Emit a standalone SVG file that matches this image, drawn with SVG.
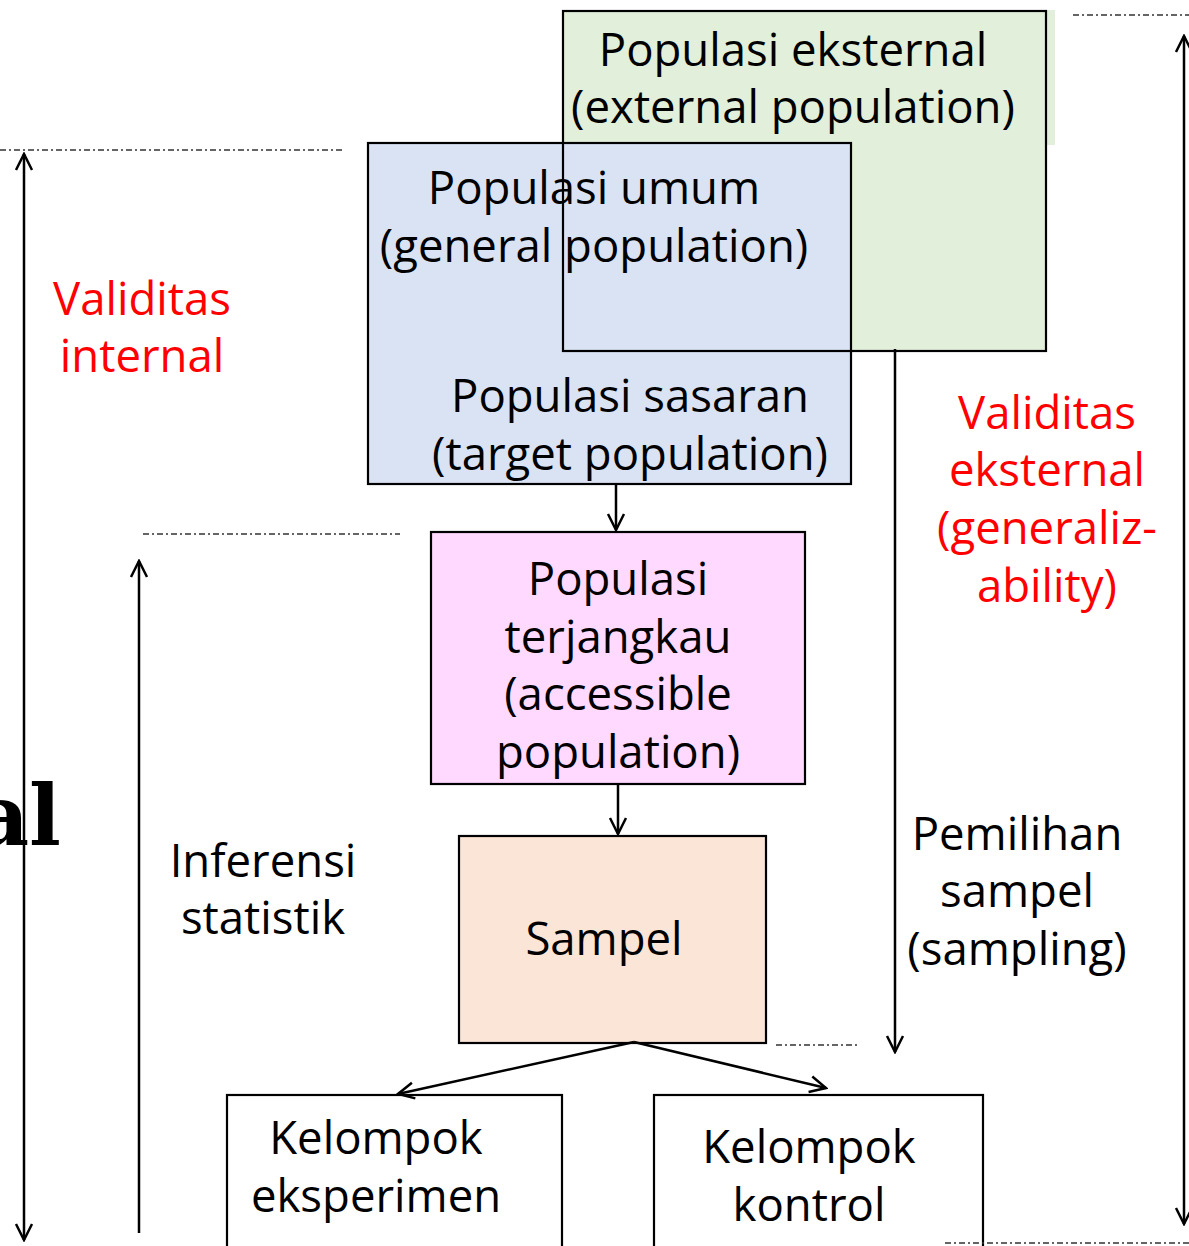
<svg xmlns="http://www.w3.org/2000/svg" width="1189" height="1246" viewBox="0 0 1189 1246">
<style>
.t{font-family:"Open Sans","Noto Sans",sans-serif;font-size:45.5px;fill:#000;text-anchor:middle}
.r{fill:#FF0000}
.box{stroke:#000;stroke-width:2.2}
.ln{stroke:#000;stroke-width:2.5;fill:none}
.dash{stroke:#333;stroke-width:1.3;stroke-dasharray:6 3 2 3;fill:none}
</style>
<defs>
<marker id="ah" viewBox="0 0 20 20" refX="18" refY="10" markerWidth="20" markerHeight="20" markerUnits="userSpaceOnUse" orient="auto-start-reverse">
<polyline points="2,2 18,10 2,18" fill="none" stroke="#000" stroke-width="2.5"/>
</marker>
</defs>
<rect width="1189" height="1246" fill="#fff"/>
<g id="big-text">
<text x="61" y="845" style="font-family:'DejaVu Serif',serif;font-weight:900;font-size:84px" text-anchor="end">nal</text>
</g>
<g id="populasi-eksternal">
<rect x="563" y="10" width="492" height="135" fill="#E2EFDA"/>
<rect x="563" y="11" width="483" height="340" fill="#E2EFDA"/>
</g>
<g id="populasi-umum">
<rect class="box" x="368" y="143" width="483" height="341" fill="#DAE3F3"/>
<text class="t" x="594" y="204">Populasi umum</text>
<text class="t" x="594" y="262">(general population)</text>
<text class="t" x="630" y="412">Populasi sasaran</text>
<text class="t" x="630" y="470">(target population)</text>
</g>
<g id="populasi-eksternal-frame">
<rect class="box" x="563" y="11" width="483" height="340" fill="none"/>
<text class="t" x="793" y="66">Populasi eksternal</text>
<text class="t" x="793" y="123">(external population)</text>
</g>
<g id="populasi-terjangkau">
<rect class="box" x="431" y="532" width="374" height="252" fill="#FFD9FF"/>
<text class="t" x="618" y="595">Populasi</text>
<text class="t" x="618" y="653">terjangkau</text>
<text class="t" x="618" y="710">(accessible</text>
<text class="t" x="618" y="768">population)</text>
</g>
<g id="sampel">
<rect class="box" x="459" y="836" width="307" height="207" fill="#FBE5D6"/>
<text class="t" x="604" y="955">Sampel</text>
</g>
<g id="kelompok-eksperimen">
<rect class="box" x="227" y="1095" width="335" height="160" fill="#fff"/>
<text class="t" x="376" y="1154">Kelompok</text>
<text class="t" x="376" y="1212">eksperimen</text>
</g>
<g id="kelompok-kontrol">
<rect class="box" x="654" y="1095" width="329" height="160" fill="#fff"/>
<text class="t" x="809" y="1163">Kelompok</text>
<text class="t" x="809" y="1221">kontrol</text>
</g>
<g id="labels">
<text class="t r" x="142" y="315">Validitas</text>
<text class="t r" x="142" y="372">internal</text>
<text class="t r" x="1047" y="429">Validitas</text>
<text class="t r" x="1047" y="486">eksternal</text>
<text class="t r" x="1047" y="544">(generaliz-</text>
<text class="t r" x="1047" y="602">ability)</text>
<text class="t" x="263" y="877">Inferensi</text>
<text class="t" x="263" y="934">statistik</text>
<text class="t" x="1017" y="850">Pemilihan</text>
<text class="t" x="1017" y="907">sampel</text>
<text class="t" x="1017" y="965">(sampling)</text>
</g>
<g id="connectors">
<line class="dash" x1="0" y1="150" x2="345" y2="150"/>
<line class="dash" x1="143" y1="534" x2="400" y2="534"/>
<line class="dash" x1="1073" y1="15" x2="1189" y2="15"/>
<line class="dash" x1="945" y1="1243" x2="1189" y2="1243"/>
<line class="dash" x1="776" y1="1045" x2="857" y2="1045"/>
<line class="ln" x1="24" y1="154" x2="24" y2="1240" marker-start="url(#ah)" marker-end="url(#ah)"/>
<line class="ln" x1="139" y1="1233" x2="139" y2="561" marker-end="url(#ah)"/>
<line class="ln" x1="1184" y1="1224" x2="1184" y2="36" marker-start="url(#ah)" marker-end="url(#ah)"/>
<line class="ln" x1="895" y1="349" x2="895" y2="1052" marker-end="url(#ah)"/>
<line class="ln" x1="616" y1="484" x2="616" y2="530" marker-end="url(#ah)"/>
<line class="ln" x1="618" y1="784" x2="618" y2="834" marker-end="url(#ah)"/>
<line class="ln" x1="634" y1="1042" x2="398" y2="1094" marker-end="url(#ah)"/>
<line class="ln" x1="634" y1="1042" x2="826" y2="1088" marker-end="url(#ah)"/>
</g>
</svg>
